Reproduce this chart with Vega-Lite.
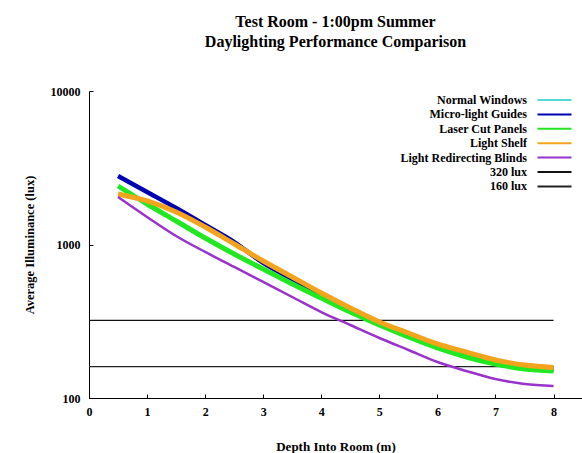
{
  "$schema": "https://vega.github.io/schema/vega-lite/v6.json",
  "width": 493,
  "height": 307,
  "autosize": {"type": "none"},
  "padding": {"left": 89, "top": 91, "right": 0, "bottom": 55},
  "background": "white",
  "title": {
    "text": ["Test Room - 1:00pm Summer", "Daylighting Performance Comparison"],
    "font": "Liberation Serif",
    "fontSize": 16,
    "fontWeight": "bold",
    "color": "#000",
    "anchor": "middle",
    "offset": 35,
    "lineHeight": 20
  },
  "data": {
    "values": [
      {"series": "320 lux", "depth": 0, "lux": 320},
      {"series": "320 lux", "depth": 8, "lux": 320},
      {"series": "160 lux", "depth": 0, "lux": 160},
      {"series": "160 lux", "depth": 8, "lux": 160},
      {"series": "Normal Windows", "depth": 0.5, "lux": 2739},
      {"series": "Normal Windows", "depth": 1, "lux": 2154},
      {"series": "Normal Windows", "depth": 1.5, "lux": 1694},
      {"series": "Normal Windows", "depth": 2, "lux": 1313},
      {"series": "Normal Windows", "depth": 2.5, "lux": 1017},
      {"series": "Normal Windows", "depth": 3, "lux": 743},
      {"series": "Normal Windows", "depth": 3.5, "lux": 584},
      {"series": "Normal Windows", "depth": 4, "lux": 460},
      {"series": "Normal Windows", "depth": 4.5, "lux": 367},
      {"series": "Normal Windows", "depth": 5, "lux": 297},
      {"series": "Normal Windows", "depth": 5.5, "lux": 252},
      {"series": "Normal Windows", "depth": 6, "lux": 214},
      {"series": "Normal Windows", "depth": 6.5, "lux": 190},
      {"series": "Normal Windows", "depth": 7, "lux": 168},
      {"series": "Normal Windows", "depth": 7.5, "lux": 156},
      {"series": "Normal Windows", "depth": 8, "lux": 151},
      {"series": "Micro-light Guides", "depth": 0.5, "lux": 2795},
      {"series": "Micro-light Guides", "depth": 1, "lux": 2198},
      {"series": "Micro-light Guides", "depth": 1.5, "lux": 1729},
      {"series": "Micro-light Guides", "depth": 2, "lux": 1340},
      {"series": "Micro-light Guides", "depth": 2.5, "lux": 1038},
      {"series": "Micro-light Guides", "depth": 3, "lux": 758},
      {"series": "Micro-light Guides", "depth": 3.5, "lux": 596},
      {"series": "Micro-light Guides", "depth": 4, "lux": 469},
      {"series": "Micro-light Guides", "depth": 4.5, "lux": 374},
      {"series": "Micro-light Guides", "depth": 5, "lux": 303},
      {"series": "Micro-light Guides", "depth": 5.5, "lux": 257},
      {"series": "Micro-light Guides", "depth": 6, "lux": 218},
      {"series": "Micro-light Guides", "depth": 6.5, "lux": 193.5},
      {"series": "Micro-light Guides", "depth": 7, "lux": 171.6},
      {"series": "Micro-light Guides", "depth": 7.5, "lux": 159.2},
      {"series": "Micro-light Guides", "depth": 8, "lux": 153.4},
      {"series": "Laser Cut Panels", "depth": 0.5, "lux": 2405},
      {"series": "Laser Cut Panels", "depth": 1, "lux": 1836},
      {"series": "Laser Cut Panels", "depth": 1.5, "lux": 1423},
      {"series": "Laser Cut Panels", "depth": 2, "lux": 1102},
      {"series": "Laser Cut Panels", "depth": 2.5, "lux": 867},
      {"series": "Laser Cut Panels", "depth": 3, "lux": 692},
      {"series": "Laser Cut Panels", "depth": 3.5, "lux": 553},
      {"series": "Laser Cut Panels", "depth": 4, "lux": 448},
      {"series": "Laser Cut Panels", "depth": 4.5, "lux": 363},
      {"series": "Laser Cut Panels", "depth": 5, "lux": 299},
      {"series": "Laser Cut Panels", "depth": 5.5, "lux": 250},
      {"series": "Laser Cut Panels", "depth": 6, "lux": 212},
      {"series": "Laser Cut Panels", "depth": 6.5, "lux": 185},
      {"series": "Laser Cut Panels", "depth": 7, "lux": 166.5},
      {"series": "Laser Cut Panels", "depth": 7.5, "lux": 154.5},
      {"series": "Laser Cut Panels", "depth": 8, "lux": 150},
      {"series": "Light Shelf", "depth": 0.5, "lux": 2133},
      {"series": "Light Shelf", "depth": 1, "lux": 1921},
      {"series": "Light Shelf", "depth": 1.5, "lux": 1628},
      {"series": "Light Shelf", "depth": 2, "lux": 1300},
      {"series": "Light Shelf", "depth": 2.5, "lux": 1008},
      {"series": "Light Shelf", "depth": 3, "lux": 781},
      {"series": "Light Shelf", "depth": 3.5, "lux": 614},
      {"series": "Light Shelf", "depth": 4, "lux": 483},
      {"series": "Light Shelf", "depth": 4.5, "lux": 386},
      {"series": "Light Shelf", "depth": 5, "lux": 313},
      {"series": "Light Shelf", "depth": 5.5, "lux": 265},
      {"series": "Light Shelf", "depth": 6, "lux": 225},
      {"series": "Light Shelf", "depth": 6.5, "lux": 199},
      {"series": "Light Shelf", "depth": 7, "lux": 177},
      {"series": "Light Shelf", "depth": 7.5, "lux": 164},
      {"series": "Light Shelf", "depth": 8, "lux": 158},
      {"series": "Light Redirecting Blinds", "depth": 0.5, "lux": 2039},
      {"series": "Light Redirecting Blinds", "depth": 1, "lux": 1511},
      {"series": "Light Redirecting Blinds", "depth": 1.5, "lux": 1136},
      {"series": "Light Redirecting Blinds", "depth": 2, "lux": 894},
      {"series": "Light Redirecting Blinds", "depth": 2.5, "lux": 714},
      {"series": "Light Redirecting Blinds", "depth": 3, "lux": 570},
      {"series": "Light Redirecting Blinds", "depth": 3.5, "lux": 455},
      {"series": "Light Redirecting Blinds", "depth": 4, "lux": 363},
      {"series": "Light Redirecting Blinds", "depth": 4.5, "lux": 299},
      {"series": "Light Redirecting Blinds", "depth": 5, "lux": 246},
      {"series": "Light Redirecting Blinds", "depth": 5.5, "lux": 205.5},
      {"series": "Light Redirecting Blinds", "depth": 6, "lux": 171.6},
      {"series": "Light Redirecting Blinds", "depth": 6.5, "lux": 150},
      {"series": "Light Redirecting Blinds", "depth": 7, "lux": 133},
      {"series": "Light Redirecting Blinds", "depth": 7.5, "lux": 123.4},
      {"series": "Light Redirecting Blinds", "depth": 8, "lux": 119.7}
    ]
  },
  "encoding": {
    "x": {
      "field": "depth",
      "type": "quantitative",
      "scale": {"domain": [0, 8.49], "nice": false, "zero": false},
      "axis": {
        "values": [0, 1, 2, 3, 4, 5, 6, 7, 8],
        "format": "d",
        "title": "Depth Into Room (m)",
        "grid": false,
        "domainColor": "#000",
        "tickColor": "#000",
        "tickSize": -4,
        "labelPadding": 12,
        "labelFont": "Liberation Serif",
        "labelFontSize": 12,
        "labelFontWeight": "bold",
        "labelColor": "#000",
        "labelFlush": false,
        "titleFont": "Liberation Serif",
        "titleFontSize": 13,
        "titleFontWeight": "bold",
        "titleColor": "#000",
        "titlePadding": 23
      }
    },
    "y": {
      "field": "lux",
      "type": "quantitative",
      "scale": {"type": "log", "domain": [100, 10000], "nice": false},
      "axis": {
        "values": [100, 1000, 10000],
        "format": "d",
        "title": "Average Illuminance (lux)",
        "grid": false,
        "domainColor": "#000",
        "tickColor": "#000",
        "tickSize": -4,
        "labelPadding": 13,
        "labelFont": "Liberation Serif",
        "labelFontSize": 12,
        "labelFontWeight": "bold",
        "labelColor": "#000",
        "labelFlush": false,
        "titleFont": "Liberation Serif",
        "titleFontSize": 12.5,
        "titleFontWeight": "bold",
        "titleColor": "#000",
        "titlePadding": 14
      }
    },
    "color": {
      "field": "series",
      "type": "nominal",
      "scale": {
        "domain": ["Normal Windows", "Micro-light Guides", "Laser Cut Panels", "Light Shelf", "Light Redirecting Blinds", "320 lux", "160 lux"],
        "range": ["#55d8d8", "#0000b3", "#22e822", "#f4a41c", "#9933cc", "#111111", "#222222"]
      },
      "legend": {
        "orient": "none",
        "legendX": 459.5,
        "legendY": 3,
        "title": null,
        "symbolType": "M-4.25,0H4.25",
        "symbolSize": 64,
        "symbolStrokeWidth": 2,
        "rowPadding": 2.4,
        "labelAlign": "right",
        "labelOffset": -33.5,
        "labelFont": "Liberation Serif",
        "labelFontSize": 12,
        "labelFontWeight": "bold",
        "labelColor": "#000",
        "labelLimit": 300,
        "padding": 0
      }
    }
  },
  "layer": [
    {
      "transform": [{"filter": {"field": "series", "oneOf": ["320 lux", "160 lux", "Normal Windows"]}}],
      "mark": {"type": "line", "interpolate": "monotone", "strokeWidth": 1.3}
    },
    {
      "transform": [{"filter": {"field": "series", "equal": "Micro-light Guides"}}],
      "mark": {"type": "line", "interpolate": "monotone", "strokeWidth": 4.5}
    },
    {
      "transform": [{"filter": {"field": "series", "oneOf": ["Laser Cut Panels", "Light Shelf"]}}],
      "mark": {"type": "line", "interpolate": "monotone", "strokeWidth": 5}
    },
    {
      "transform": [{"filter": {"field": "series", "equal": "Light Redirecting Blinds"}}],
      "mark": {"type": "line", "interpolate": "monotone", "strokeWidth": 2.5}
    }
  ],
  "config": {"view": {"stroke": null}}
}
